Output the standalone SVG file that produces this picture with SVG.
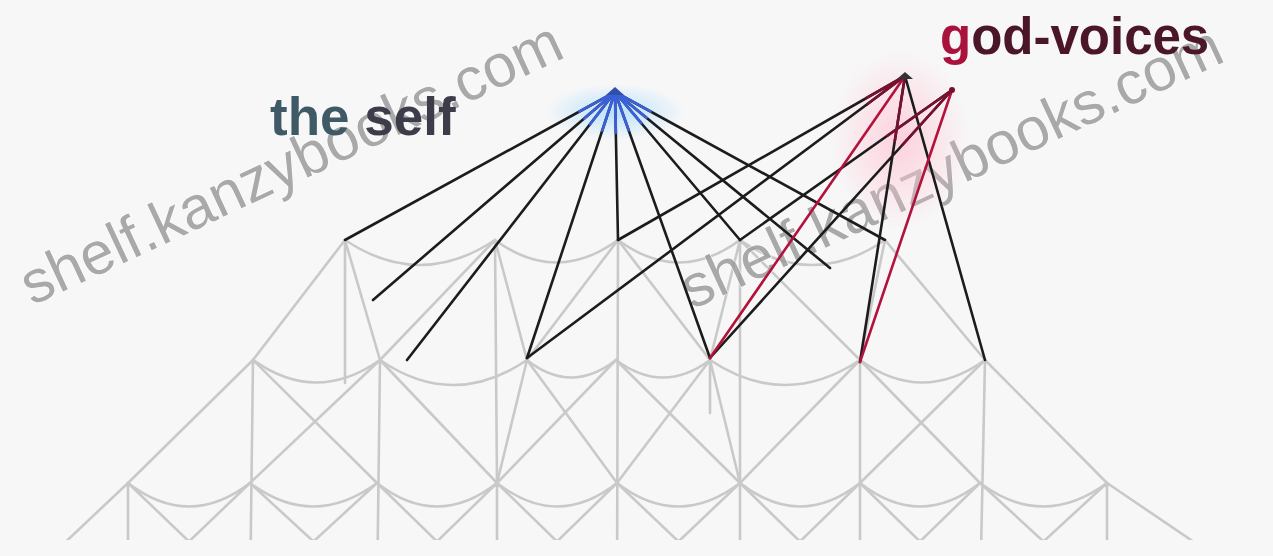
<svg xmlns="http://www.w3.org/2000/svg" width="1273" height="556" viewBox="0 0 1273 556">
<style>
.lat{fill:none;stroke:#c9c9c9;stroke-width:2.6;stroke-linecap:round}
.blk{fill:none;stroke:#1c1c1c;stroke-width:2.6;stroke-linecap:round}
.red{fill:none;stroke:#b3123c;stroke-width:2.6;stroke-linecap:round}
.blu{fill:none;stroke:#3b5fd6;stroke-width:2.8;stroke-linecap:round}
.wm{font-family:"Liberation Sans",Arial,sans-serif;font-size:60px;fill:#9c9c9c;stroke:#ffffff;stroke-width:1.2;paint-order:stroke;opacity:.85}
.lbl{font-family:"Liberation Sans",Arial,sans-serif;font-weight:bold}
</style>
<defs>
<clipPath id="clipLat"><rect x="0" y="0" width="1273" height="540"/></clipPath>
<clipPath id="clipSelf"><circle cx="615" cy="92" r="42"/></clipPath>
<clipPath id="clipGod"><circle cx="925" cy="90" r="60"/></clipPath>
<radialGradient id="gBlue" cx="0.5" cy="0.5" r="0.5"><stop offset="0" stop-color="#a9dcff" stop-opacity=".8"/><stop offset="1" stop-color="#a9dcff" stop-opacity="0"/></radialGradient>
<radialGradient id="gPink" cx="0.5" cy="0.5" r="0.5"><stop offset="0" stop-color="#ffc7d6" stop-opacity=".8"/><stop offset="1" stop-color="#ffc7d6" stop-opacity="0"/></radialGradient>
</defs>
<rect width="1273" height="556" fill="#f7f7f7"/>

<g id="lattice" class="lat" clip-path="url(#clipLat)">
<path d="M345 240L253 360M345 240L380 360M345 240L345 383M495 240L380 360M495 240L527 360M495 240L497 483M618 240L527 360M618 240L710 360M618 240L617 600M740 240L710 360M740 240L860 360M740 240L740 600M885 240L860 360M885 240L985 360"/>
<path d="M345 240Q420 290 495 240M495 240Q556 285 618 240M618 240Q679 285 740 240M740 240Q812 290 885 240"/>
<path d="M253 360L128 483M253 360L250 600M253 360L377 483M380 360L250 483M380 360L377 600M380 360L497 483M527 360L497 483M527 360L617 483M616 360L497 483M616 360L740 483M710 360L617 483M710 360L740 483M710 360L710 413M860 360L740 483M860 360L860 600M860 360L980 483M985 360L860 483M985 360L980 600M985 360L1107 483"/>
<path d="M253 360Q316 405 380 360M380 360Q453 410 527 360M527 360Q571 395 616 360M616 360Q663 395 710 360M710 360Q785 410 860 360M860 360Q922 405 985 360"/>
<path d="M128 483L20 585M128 483L128 600M128 483L250 600M250 483L128 600M250 483L377 600M377 483L250 600M377 483L497 600M497 483L377 600M497 483L497 600M497 483L617 600M617 483L497 600M617 483L740 600M740 483L617 600M740 483L860 600M860 483L740 600M860 483L980 600M980 483L860 600M980 483L1107 600M1107 483L980 600M1107 483L1107 600M1107 483L1250 580"/>
<path d="M128 483Q189 530 250 483M250 483Q313 530 377 483M377 483Q437 530 497 483M497 483Q557 530 617 483M617 483Q678 530 740 483M740 483Q800 530 860 483M860 483Q920 530 980 483M980 483Q1043 530 1107 483"/>
</g>

<g id="watermarks">
<text class="wm" x="32" y="306" transform="rotate(-25 32 306)">shelf.kanzybooks.com</text>
<text class="wm" x="692" y="310" transform="rotate(-25 692 310)">shelf.kanzybooks.com</text>
</g>

<ellipse cx="615" cy="112" rx="70" ry="28" fill="url(#gBlue)"/>
<ellipse cx="900" cy="140" rx="70" ry="90" fill="url(#gPink)"/>

<g id="connectors">
<g id="self-links" class="blk">
<path d="M615 92L345 240M615 92L373 300M615 92L407 360M615 92L527 358M615 92L618 240M615 92L710 358M615 92L740 240M615 92L830 268M615 92L885 240"/>
</g>
<g id="self-links-blue" class="blu" clip-path="url(#clipSelf)">
<path d="M615 92L345 240M615 92L373 300M615 92L407 360M615 92L527 358M615 92L618 240M615 92L710 358M615 92L740 240M615 92L830 268M615 92L885 240"/>
</g>
<g id="god-links" class="blk">
<path d="M905 76L618 240M905 76L527 358M905 76L860 362M905 76L985 360M952 90L740 240M952 90L710 358"/>
</g>
<g id="god-links-red" class="red">
<path d="M905 76L710 358M952 90L860 362"/>
</g>
<g class="red" clip-path="url(#clipGod)" style="stroke:#7a1030">
<path d="M905 76L618 240M905 76L527 358M905 76L860 362M952 90L740 240M952 90L710 358"/>
</g>
</g>

<g id="node-self">
<path d="M606 95L615 87L624 95Z" fill="#2f4fa8"/>
<text class="lbl" x="270" y="135" font-size="53"><tspan fill="#3f5a66">the </tspan><tspan fill="#3c3c4a">self</tspan></text>
</g>
<g id="node-god-voices">
<path d="M897 79L905 72L913 79Z" fill="#333"/>
<circle cx="952" cy="90" r="3" fill="#7a1030"/>
<text class="lbl" x="940" y="54" font-size="51" fill="#4a1628"><tspan fill="#a8123c">g</tspan>od-voices</text>
</g>
</svg>
